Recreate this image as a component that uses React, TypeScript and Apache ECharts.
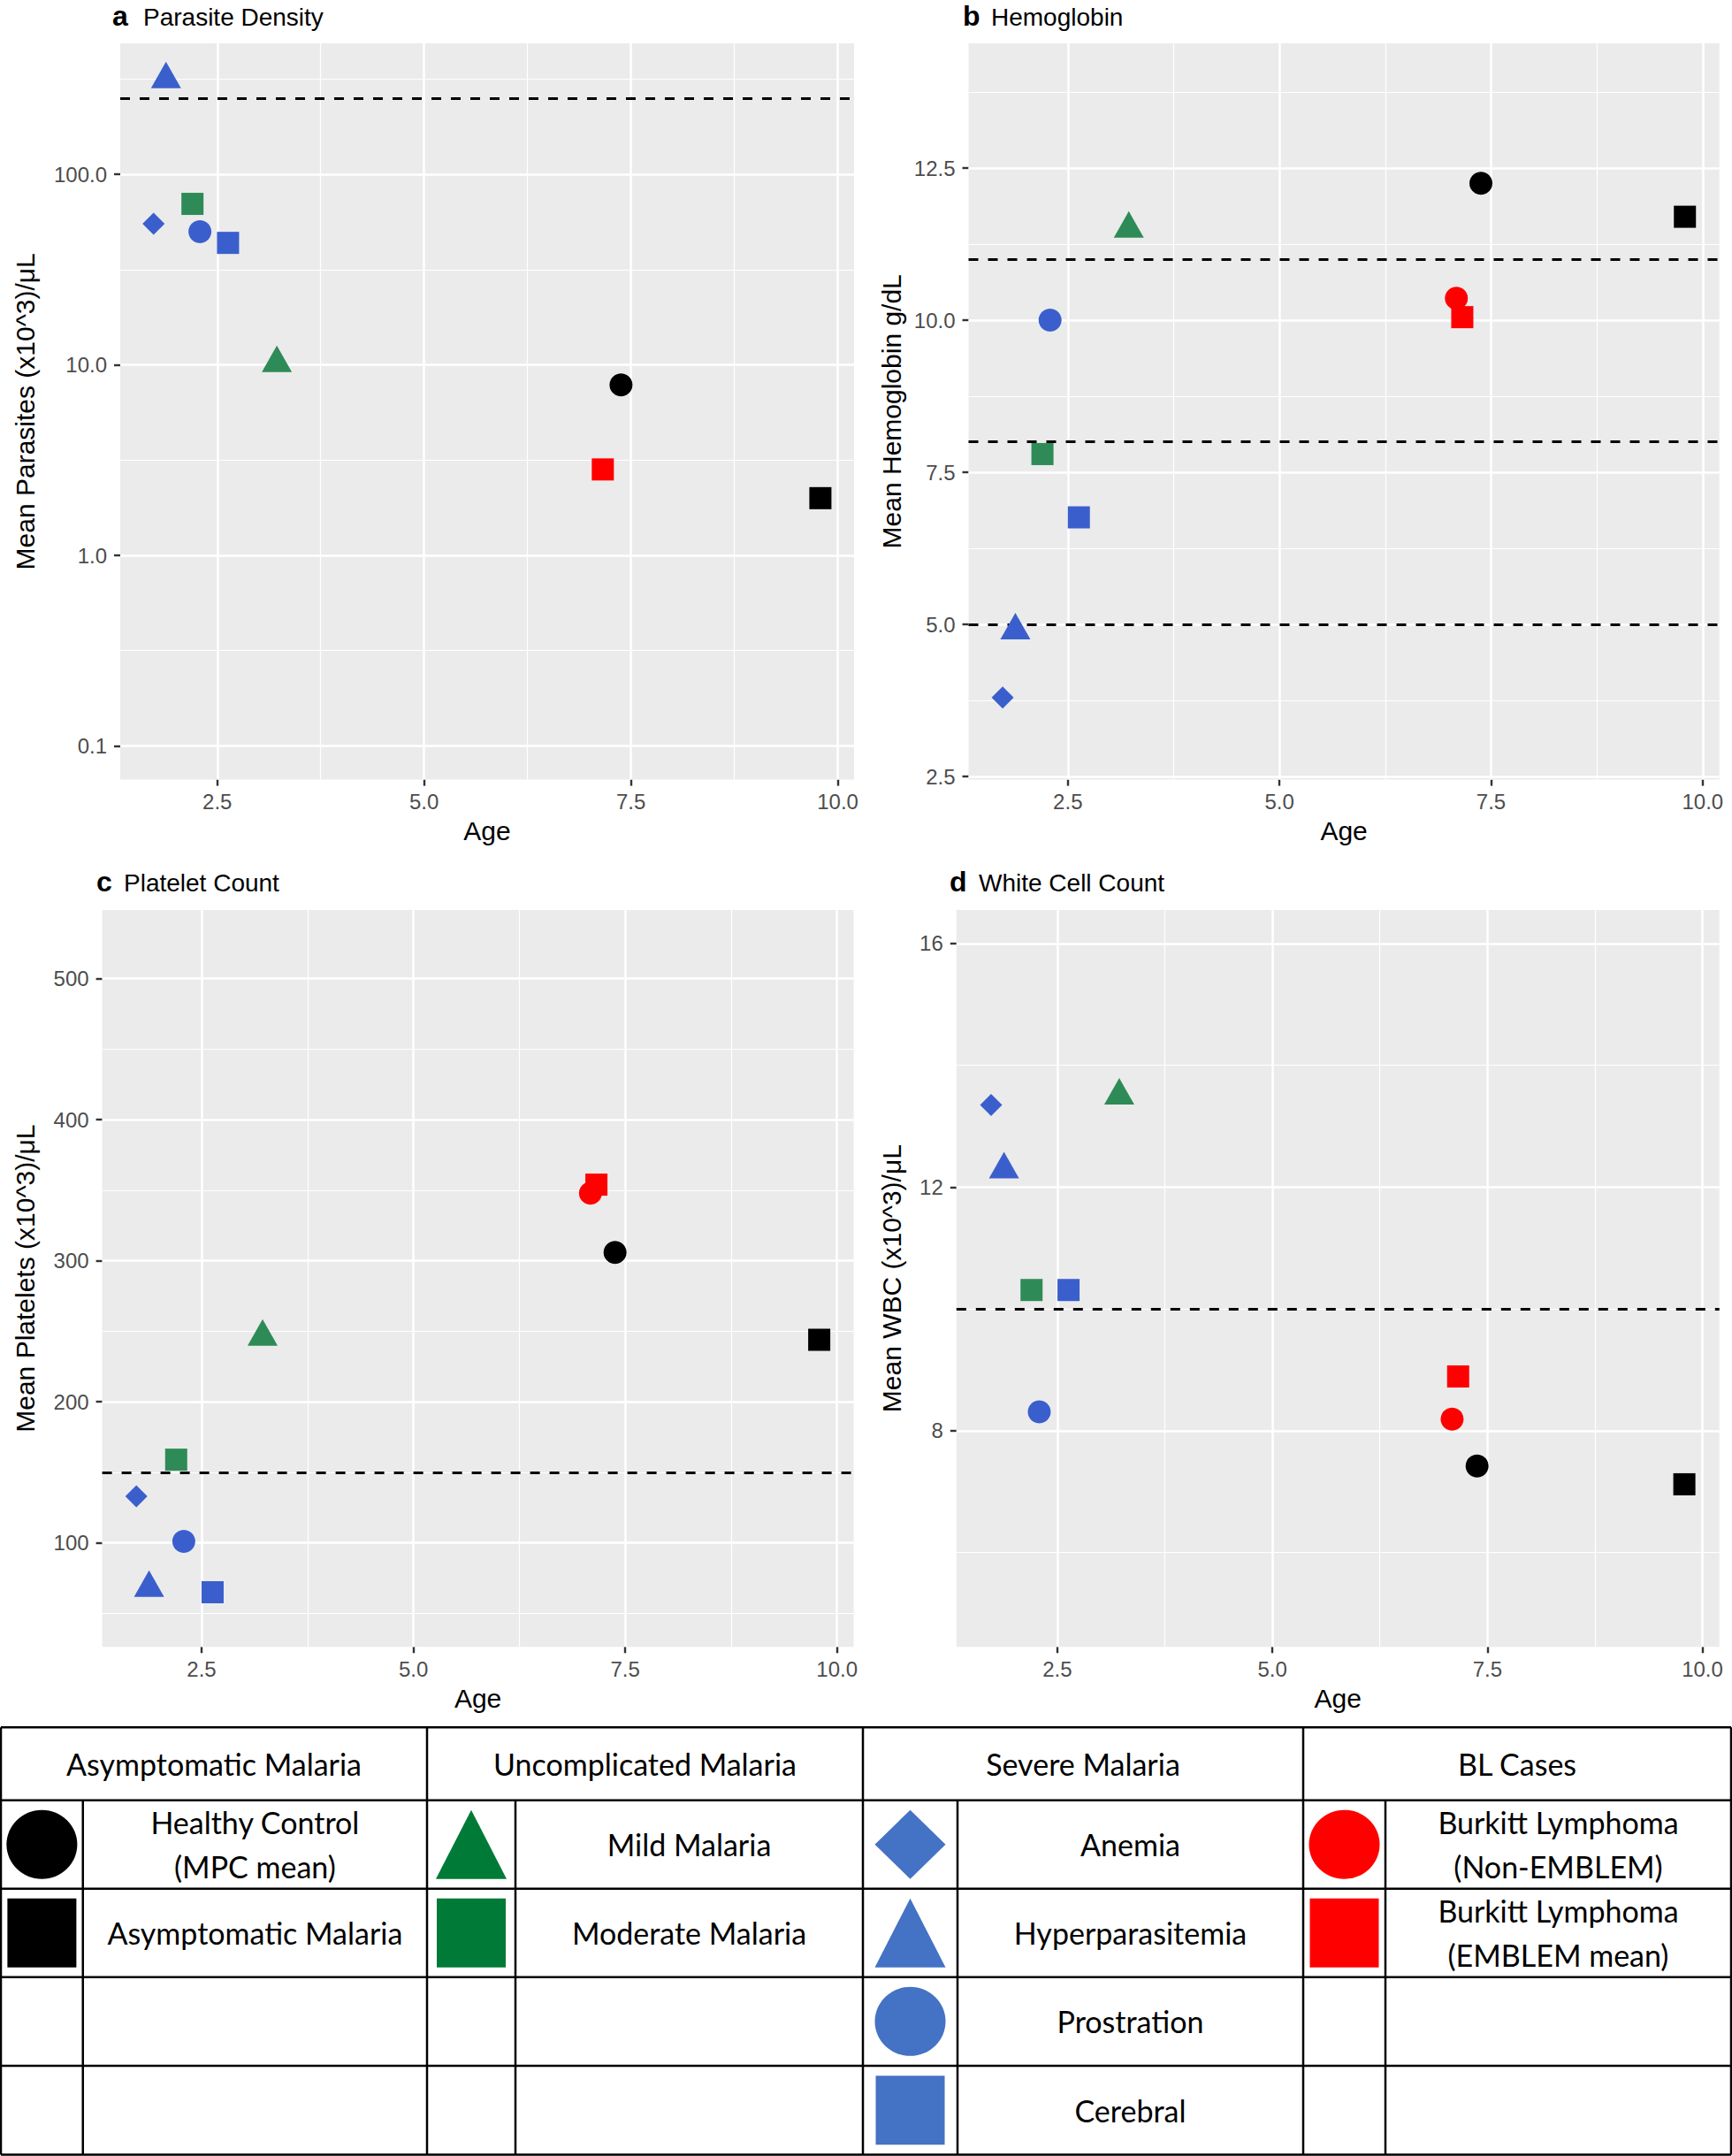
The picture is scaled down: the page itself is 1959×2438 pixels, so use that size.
import React, { useEffect, useRef } from "react";
import * as echarts from "echarts";

// ---------------- data ----------------
const groupLabels = [
  "Healthy Control\n(MPC mean)",
  "Asymptomatic Malaria",
  "Mild Malaria",
  "Moderate Malaria",
  "Anemia",
  "Hyperparasitemia",
  "Prostration",
  "Cerebral",
  "Burkitt Lymphoma\n(Non-EMBLEM)",
  "Burkitt Lymphoma\n(EMBLEM mean)",
];
const categoryTitles = ["Asymptomatic Malaria", "Uncomplicated Malaria", "Severe Malaria", "BL Cases"];
const categoryMembers = [[0, 1], [2, 3], [4, 5, 6, 7], [8, 9]];

const meanAge = [7.38, 9.79, 3.22, 2.2, 1.73, 1.88, 2.29, 2.63, 7.09, 7.16];
const parasiteDensity = [7.85, 2.0, 10.2, 70, 55, 315, 50, 43.7, null, 2.83];
const hemoglobin = [12.25, 11.7, 11.5, 7.8, 3.8, 4.9, 10.0, 6.76, 10.36, 10.05];
const plateletCount = [306, 244, 246, 159, 133, 68, 101, 65, 348, 354];
const whiteCellCount = [7.42, 7.12, 13.5, 10.31, 13.35, 12.29, 8.31, 10.31, 8.19, 8.89];

const ageTicks = [2.5, 5, 7.5, 10];
const ageMinorTicks = [3.75, 6.25, 8.75];
const ageRange = [1.327, 10.197];

const parasiteTicks = [0.1, 1, 10, 100];
const parasiteMinorTicks = [0.3162, 3.162, 31.62, 316.2];
const parasiteRange = [0.0667, 487];
const parasiteRefs = [250];

const hemoglobinTicks = [2.5, 5, 7.5, 10, 12.5];
const hemoglobinMinorTicks = [3.75, 6.25, 8.75, 11.25, 13.75];
const hemoglobinRange = [2.45, 14.55];
const hemoglobinRefs = [5, 8, 11];

const plateletTicks = [100, 200, 300, 400, 500];
const plateletMinorTicks = [50, 150, 250, 350, 450];
const plateletRange = [26.25, 548.75];
const plateletRefs = [150];

const wbcTicks = [8, 12, 16];
const wbcMinorTicks = [6, 10, 14];
const wbcRange = [4.45, 16.55];
const wbcRefs = [10];

// ---------------- styles ----------------
const plotShapes = ["circle", "rect", "triangle", "rect", "diamond", "triangle", "circle", "rect", "circle", "rect"];
const plotColors = ["#000000", "#000000", "#2E8B57", "#2E8B57", "#3A5FCD", "#3A5FCD", "#3A5FCD", "#3A5FCD", "#FF0000", "#FF0000"];
const legendColors = ["#000000", "#000000", "#007A37", "#007A37", "#4472C4", "#4472C4", "#4472C4", "#4472C4", "#FF0000", "#FF0000"];

const FONT = '"Liberation Sans", Arial, Helvetica, sans-serif';
const TABLE_FONT = 'Lato, "Open Sans", sans-serif';

const panels = [
  {
    tag: "a", title: "Parasite Density", yName: "Mean Parasites (x10^3)/\u03bcL",
    values: parasiteDensity, ticks: parasiteTicks, minor: parasiteMinorTicks, refs: parasiteRefs,
    range: parasiteRange, log: true, digits: 1,
    grid: { left: 136, top: 49, width: 830, height: 832.6 }, yNameGap: 93,
    tagX: 127, titleX: 162, baseline: 29.5,
  },
  {
    tag: "b", title: "Hemoglobin", yName: "Mean Hemoglobin g/dL",
    values: hemoglobin, ticks: hemoglobinTicks, minor: hemoglobinMinorTicks, refs: hemoglobinRefs,
    range: hemoglobinRange, log: false, digits: 1,
    grid: { left: 1095.5, top: 49, width: 849.2, height: 832.6 }, yNameGap: 72.5,
    tagX: 1089, titleX: 1121, baseline: 29.5,
  },
  {
    tag: "c", title: "Platelet Count", yName: "Mean Platelets (x10^3)/\u03bcL",
    values: plateletCount, ticks: plateletTicks, minor: plateletMinorTicks, refs: plateletRefs,
    range: plateletRange, log: false, digits: 0,
    grid: { left: 115.6, top: 1029, width: 850, height: 833.3 }, yNameGap: 72.6,
    tagX: 109, titleX: 140, baseline: 1008.3,
  },
  {
    tag: "d", title: "White Cell Count", yName: "Mean WBC (x10^3)/\u03bcL",
    values: whiteCellCount, ticks: wbcTicks, minor: wbcMinorTicks, refs: wbcRefs,
    range: wbcRange, log: false, digits: 0,
    grid: { left: 1081.8, top: 1029, width: 862.9, height: 833.3 }, yNameGap: 58.8,
    tagX: 1074, titleX: 1107, baseline: 1008.3,
  },
];

const tableCols = [1, 93.75, 483, 583, 976, 1083, 1474, 1567, 1958];
const tableRows = [1953.3, 2035.7, 2135.7, 2235.7, 2336, 2436.5];

function symbolStyle(shape: string) {
  if (shape === "triangle") return { symbolSize: [34, 30], symbolOffset: [0, -5] };
  if (shape === "diamond") return { symbolSize: 25 };
  if (shape === "rect") return { symbolSize: 25 };
  return { symbolSize: 26 };
}

function buildOption() {
  const grid: any[] = [];
  const xAxis: any[] = [];
  const yAxis: any[] = [];
  const series: any[] = [];
  const graphics: any[] = [];

  panels.forEach((p, i) => {
    grid.push({
      ...p.grid,
      show: true,
      backgroundColor: "#EBEBEB",
      borderWidth: 0,
      containLabel: false,
    });
    xAxis.push({
      type: "value",
      gridIndex: i,
      min: ageRange[0],
      max: ageRange[1],
      name: "Age",
      nameLocation: "middle",
      nameGap: 43,
      nameTextStyle: { fontSize: 30, color: "#000", fontFamily: FONT },
      axisLine: { show: false },
      axisTick: { show: true, length: 7, customValues: ageTicks, lineStyle: { color: "#333", width: 2.4 } },
      axisLabel: {
        customValues: ageTicks,
        formatter: (v: number) => Number(v).toFixed(1),
        fontSize: 24,
        color: "#4D4D4D",
        margin: 13,
        fontFamily: FONT,
      },
      splitLine: { show: false },
    });
    yAxis.push({
      type: p.log ? "log" : "value",
      logBase: 10,
      gridIndex: i,
      min: p.range[0],
      max: p.range[1],
      name: p.yName,
      nameLocation: "middle",
      nameGap: p.yNameGap,
      nameTextStyle: { fontSize: 30, color: "#000", fontFamily: FONT },
      axisLine: { show: false },
      axisTick: { show: true, length: 7, customValues: p.ticks, lineStyle: { color: "#333", width: 2.4 } },
      axisLabel: {
        customValues: p.ticks,
        formatter: (v: number) => Number(v).toFixed(p.digits),
        fontSize: 24,
        color: "#4D4D4D",
        margin: 15,
        fontFamily: FONT,
      },
      splitLine: { show: false },
    });

    // background grid lines (ggplot style)
    const gridLineData: any[] = [];
    p.minor.forEach((v) => gridLineData.push({ yAxis: v, lineStyle: { width: 1.2 } }));
    ageMinorTicks.forEach((v) => gridLineData.push({ xAxis: v, lineStyle: { width: 1.2 } }));
    p.ticks.forEach((v) => gridLineData.push({ yAxis: v, lineStyle: { width: 2.5 } }));
    ageTicks.forEach((v) => gridLineData.push({ xAxis: v, lineStyle: { width: 2.5 } }));
    series.push({
      type: "scatter",
      name: "grid-" + p.tag,
      xAxisIndex: i,
      yAxisIndex: i,
      data: [],
      silent: true,
      z: 1,
      markLine: {
        z: 1,
        silent: true,
        animation: false,
        symbol: ["none", "none"],
        label: { show: false },
        emphasis: { disabled: true },
        lineStyle: { color: "#FFFFFF", type: "solid" },
        data: gridLineData,
      },
    });
    // dashed reference lines
    series.push({
      type: "scatter",
      name: "ref-" + p.tag,
      xAxisIndex: i,
      yAxisIndex: i,
      data: [],
      silent: true,
      z: 2,
      markLine: {
        z: 2,
        silent: true,
        animation: false,
        symbol: ["none", "none"],
        label: { show: false },
        emphasis: { disabled: true },
        lineStyle: { color: "#000000", width: 3, type: [11, 11] },
        data: p.refs.map((v) => ({ yAxis: v })),
      },
    });
    // points
    groupLabels.forEach((g, k) => {
      const val = p.values[k];
      if (val == null) return;
      series.push({
        type: "scatter",
        name: g.replace("\n", " "),
        xAxisIndex: i,
        yAxisIndex: i,
        data: [[meanAge[k], val]],
        symbol: plotShapes[k],
        ...symbolStyle(plotShapes[k]),
        itemStyle: { color: plotColors[k], opacity: 1 },
        z: 10,
        silent: true,
      });
    });

    // panel titles
    graphics.push({
      type: "text",
      x: p.tagX,
      y: p.baseline - 11.1,
      silent: true,
      style: { text: p.tag, fontSize: 32, lineHeight: 24, fontWeight: "bold", fontFamily: FONT, fill: "#000", align: "left", verticalAlign: "middle" },
    });
    graphics.push({
      type: "text",
      x: p.titleX,
      y: p.baseline - 9.7,
      silent: true,
      style: { text: p.title, fontSize: 28, lineHeight: 24, fontFamily: FONT, fill: "#000", align: "left", verticalAlign: "middle" },
    });
  });

  // ---------- legend table ----------
  const top = tableRows[0];
  const bottom = tableRows[tableRows.length - 1];
  const left = tableCols[0];
  const right = tableCols[tableCols.length - 1];
  const lineStyle = { stroke: "#000", lineWidth: 2.5 };
  tableRows.forEach((y) => {
    graphics.push({ type: "line", silent: true, shape: { x1: left, y1: y, x2: right, y2: y }, style: lineStyle });
  });
  tableCols.forEach((x, ci) => {
    const isGroupEdge = ci % 2 === 0;
    graphics.push({
      type: "line",
      silent: true,
      shape: { x1: x, y1: isGroupEdge ? top : tableRows[1], x2: x, y2: bottom },
      style: lineStyle,
    });
  });

  categoryTitles.forEach((t, gi) => {
    const gl = tableCols[gi * 2];
    const gr = tableCols[gi * 2 + 2];
    graphics.push({
      type: "text",
      silent: true,
      x: (gl + gr) / 2,
      y: (tableRows[0] + tableRows[1]) / 2,
      style: { text: t, fontSize: 34, fontFamily: TABLE_FONT, fill: "#000", align: "center", verticalAlign: "middle" },
    });
    const symCx = (gl + tableCols[gi * 2 + 1]) / 2;
    const labCx = (tableCols[gi * 2 + 1] + gr) / 2;
    categoryMembers[gi].forEach((k, j) => {
      const cy = (tableRows[j + 1] + tableRows[j + 2]) / 2;
      const color = legendColors[k];
      const shape = plotShapes[k];
      const h = 39;
      if (shape === "circle") {
        graphics.push({ type: "ellipse", silent: true, shape: { cx: symCx, cy, rx: 40, ry: h }, style: { fill: color } });
      } else if (shape === "rect") {
        graphics.push({ type: "rect", silent: true, shape: { x: symCx - h, y: cy - h, width: 2 * h, height: 2 * h }, style: { fill: color } });
      } else if (shape === "triangle") {
        graphics.push({
          type: "polygon",
          silent: true,
          shape: { points: [[symCx, cy - h], [symCx + 40, cy + h], [symCx - 40, cy + h]] },
          style: { fill: color },
        });
      } else if (shape === "diamond") {
        graphics.push({
          type: "polygon",
          silent: true,
          shape: { points: [[symCx, cy - h], [symCx + 40, cy], [symCx, cy + h], [symCx - 40, cy]] },
          style: { fill: color },
        });
      }
      graphics.push({
        type: "text",
        silent: true,
        x: labCx,
        y: cy,
        style: {
          text: groupLabels[k],
          fontSize: 34,
          lineHeight: 50,
          fontFamily: TABLE_FONT,
          fill: "#000",
          align: "center",
          verticalAlign: "middle",
        },
      });
    });
  });

  return {
    animation: false,
    backgroundColor: "#FFFFFF",
    textStyle: { fontFamily: FONT },
    grid,
    xAxis,
    yAxis,
    series,
    graphic: { elements: graphics },
  };
}

export default function App() {
  const ref = useRef<HTMLDivElement>(null);
  useEffect(() => {
    if (!ref.current) return;
    const chart = echarts.init(ref.current, null, { renderer: "svg" });
    chart.setOption(buildOption() as any);
    return () => {
      chart.dispose();
    };
  }, []);
  return (
    <div
      ref={ref}
      style={{ position: "absolute", left: 0, top: 0, width: 1959, height: 2438, background: "#fff" }}
    />
  );
}
